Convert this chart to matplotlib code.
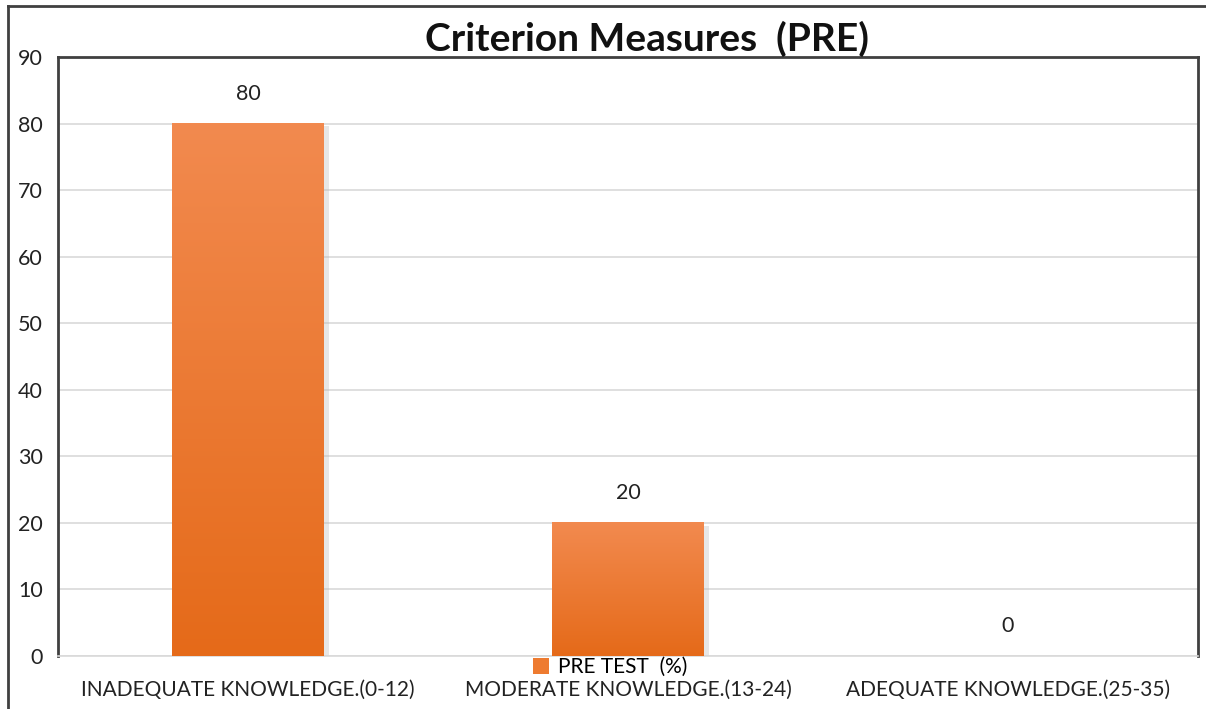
import numpy as np
import matplotlib.pyplot as plt
from matplotlib.lines import Line2D
from matplotlib.patches import Patch

categories = ['INADEQUATE KNOWLEDGE.(0-12)', 'MODERATE KNOWLEDGE.(13-24)', 'ADEQUATE KNOWLEDGE.(25-35)']
pre_test = [80, 20, 0]
series_name = 'PRE TEST  (%)'

plt.rcParams['font.family'] = ['Lato', 'DejaVu Sans']

fig = plt.figure(figsize=(12.06, 7.09), dpi=100)
ax = fig.add_axes([58/1206, 1 - 656/709, 1140/1206, 599/709])

x = np.arange(len(categories))
width = 0.4
grad = np.linspace(0, 1, 256).reshape(-1, 1)
cmap = plt.matplotlib.colors.LinearSegmentedColormap.from_list('o', ['#E56A19', '#F28A4F'])
for xi, v in zip(x, pre_test):
    if v > 0:
        # soft shadow
        ax.bar(xi + 0.012, v, width, bottom=-0.4, color='#bbbbbb', alpha=0.35, zorder=2)
        ax.imshow(grad, cmap=cmap, origin='lower', aspect='auto',
                  extent=[xi - width/2, xi + width/2, 0, v], zorder=3)
    ax.text(xi, v + 3.0, f'{v}', ha='center', va='bottom', fontsize=15.5, color='#222222')

ax.set_xlim(-0.5, 2.5)
ax.set_ylim(0, 90)
ax.set_yticks(range(0, 91, 10))
ax.set_xticks(x)
ax.set_xticklabels(categories, fontsize=15, color='#222222')
ax.tick_params(axis='y', labelsize=15.5, length=0, pad=11, colors='#222222')
ax.tick_params(axis='x', length=0, pad=17)
ax.grid(axis='y', color='#d9d9d9', linewidth=1.2, zorder=0)
ax.set_axisbelow(True)
for s in ['left', 'top', 'right']:
    ax.spines[s].set_color('#404040')
    ax.spines[s].set_linewidth(2)
ax.spines['bottom'].set_color('#d9d9d9')
ax.spines['bottom'].set_linewidth(1.2)

ax.set_title('Criterion Measures  (PRE)', fontsize=28, fontweight='bold', color='#111111',
             pad=-1, x=(647 - 58) / 1140)

leg = fig.legend(handles=[Patch(facecolor='#EE7B30')], labels=[series_name],
                 loc='center', bbox_to_anchor=(610/1206, 1 - 667/709), frameon=False,
                 fontsize=15, handlelength=0.8, handleheight=0.8, handletextpad=0.4)

# outer chart frame
fig.add_artist(Line2D([8/1206, 8/1206], [0, 1 - 6/709], color='#404040', linewidth=2, transform=fig.transFigure))
fig.add_artist(Line2D([8/1206, 1], [1 - 6/709, 1 - 6/709], color='#404040', linewidth=2, transform=fig.transFigure))

fig.savefig('out.png', dpi=100)
